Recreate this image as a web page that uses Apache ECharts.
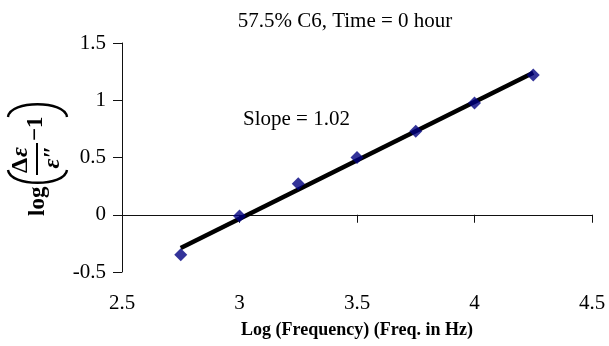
<!DOCTYPE html>
<html>
<head>
<meta charset="utf-8">
<script src="https://cdn.jsdelivr.net/npm/echarts@6/dist/echarts.min.js"></script>
<style>
  html, body { margin: 0; padding: 0; background: #fff; }
  #chart { width: 609px; height: 346px; }
</style>
</head>
<body>
<div id="chart"></div>
<script>
// measured points
const logFreq = [2.75, 3, 3.25, 3.5, 3.75, 4, 4.25]
const logRatio = [-0.35, -0.01, 0.27, 0.5, 0.73, 0.975, 1.22]
// fitted line ends
const fitX = [2.75, 4.25]
const fitY = [-0.29, 1.24]

const titleText = '57.5% C6, Time = 0 hour'
const slopeText = 'Slope = 1.02'
const xName = 'Log (Frequency) (Freq. in Hz)'

const Serif = "'Liberation Serif', 'Times New Roman', serif"

const chart = echarts.init(document.getElementById('chart'))

const pts = logFreq.map((x, i) => [x, logRatio[i]])
const fit = fitX.map((x, i) => [x, fitY[i]])

chart.setOption({
  animation: false,
  grid: {
    left: 122,
    right: 17,
    top: 43,
    bottom: 74
  },
  xAxis: {
    type: 'value',
    min: 2.5,
    max: 4.5,
    interval: 0.5,
    name: xName,
    nameLocation: 'middle',
    nameGap: 49,
    nameTextStyle: {
      fontFamily: Serif,
      fontWeight: 'bold',
      fontSize: 18,
      color: '#000'
    },
    axisLine: { lineStyle: { color: '#111', width: 1 } },
    axisTick: { show: true, length: 8, lineStyle: { color: '#111' } },
    axisLabel: {
      margin: 21,
      fontFamily: Serif,
      fontSize: 21,
      color: '#000'
    },
    splitLine: { show: false }
  },
  yAxis: {
    type: 'value',
    min: -0.5,
    max: 1.5,
    interval: 0.5,
    axisLine: { show: true, onZero: false, lineStyle: { color: '#111', width: 1 } },
    axisTick: { show: true, length: 9, lineStyle: { color: '#111' } },
    axisLabel: {
      margin: 16,
      fontFamily: Serif,
      fontSize: 21,
      color: '#000'
    },
    splitLine: { show: false }
  },
  graphic: [
    {
      type: 'text',
      x: 345,
      y: 21,
      style: {
        text: titleText,
        font: '21px ' + Serif,
        fill: '#000',
        align: 'center',
        verticalAlign: 'middle'
      }
    },
    {
      type: 'text',
      x: 243,
      y: 119,
      style: {
        text: slopeText,
        font: '21px ' + Serif,
        fill: '#000',
        align: 'left',
        verticalAlign: 'middle'
      }
    },
    {
      // y axis title: log( Δε / ε'' − 1 )
      type: 'group',
      x: 37,
      y: 160,
      rotation: Math.PI / 2,
      children: [
        {
          type: 'text',
          x: -56, y: 1,
          style: { text: 'log', font: 'bold 23px ' + Serif, fill: '#000', verticalAlign: 'middle' }
        },
        {
          type: 'bezierCurve',
          shape: { x1: -10, y1: -29, cpx1: -27, cpy1: -27, cpx2: -27, cpy2: 28, x2: -10, y2: 30 },
          style: { stroke: '#000', lineWidth: 2.4, fill: null }
        },
        {
          type: 'text',
          x: 2, y: -16,
          style: { text: 'Δ', font: 'bold 24px ' + Serif, fill: '#000', align: 'right', verticalAlign: 'middle' }
        },
        {
          type: 'text',
          x: 3, y: -16,
          style: { text: 'ε', font: 'italic bold 24px ' + Serif, fill: '#000', align: 'left', verticalAlign: 'middle' }
        },
        {
          type: 'rect',
          shape: { x: -15, y: -1, width: 32, height: 2 },
          style: { fill: '#000' }
        },
        {
          type: 'text',
          x: 3, y: 16,
          style: { text: 'ε\u2033', font: 'italic bold 24px ' + Serif, fill: '#000', align: 'center', verticalAlign: 'middle' }
        },
        {
          type: 'text',
          x: 19, y: -1,
          style: { text: '\u22121', font: 'bold 23px ' + Serif, fill: '#000', verticalAlign: 'middle' }
        },
        {
          type: 'bezierCurve',
          shape: { x1: 43, y1: -29, cpx1: 60, cpy1: -27, cpx2: 60, cpy2: 28, x2: 43, y2: 30 },
          style: { stroke: '#000', lineWidth: 2.4, fill: null }
        }
      ]
    }
  ],
  series: [
    {
      type: 'line',
      data: fit,
      symbol: 'none',
      lineStyle: { color: '#000', width: 4.5 },
      z: 2
    },
    {
      type: 'scatter',
      data: pts,
      symbol: 'diamond',
      symbolSize: 13,
      itemStyle: { color: '#000080' },
      z: 3
    }
  ]
})
</script>
</body>
</html>
